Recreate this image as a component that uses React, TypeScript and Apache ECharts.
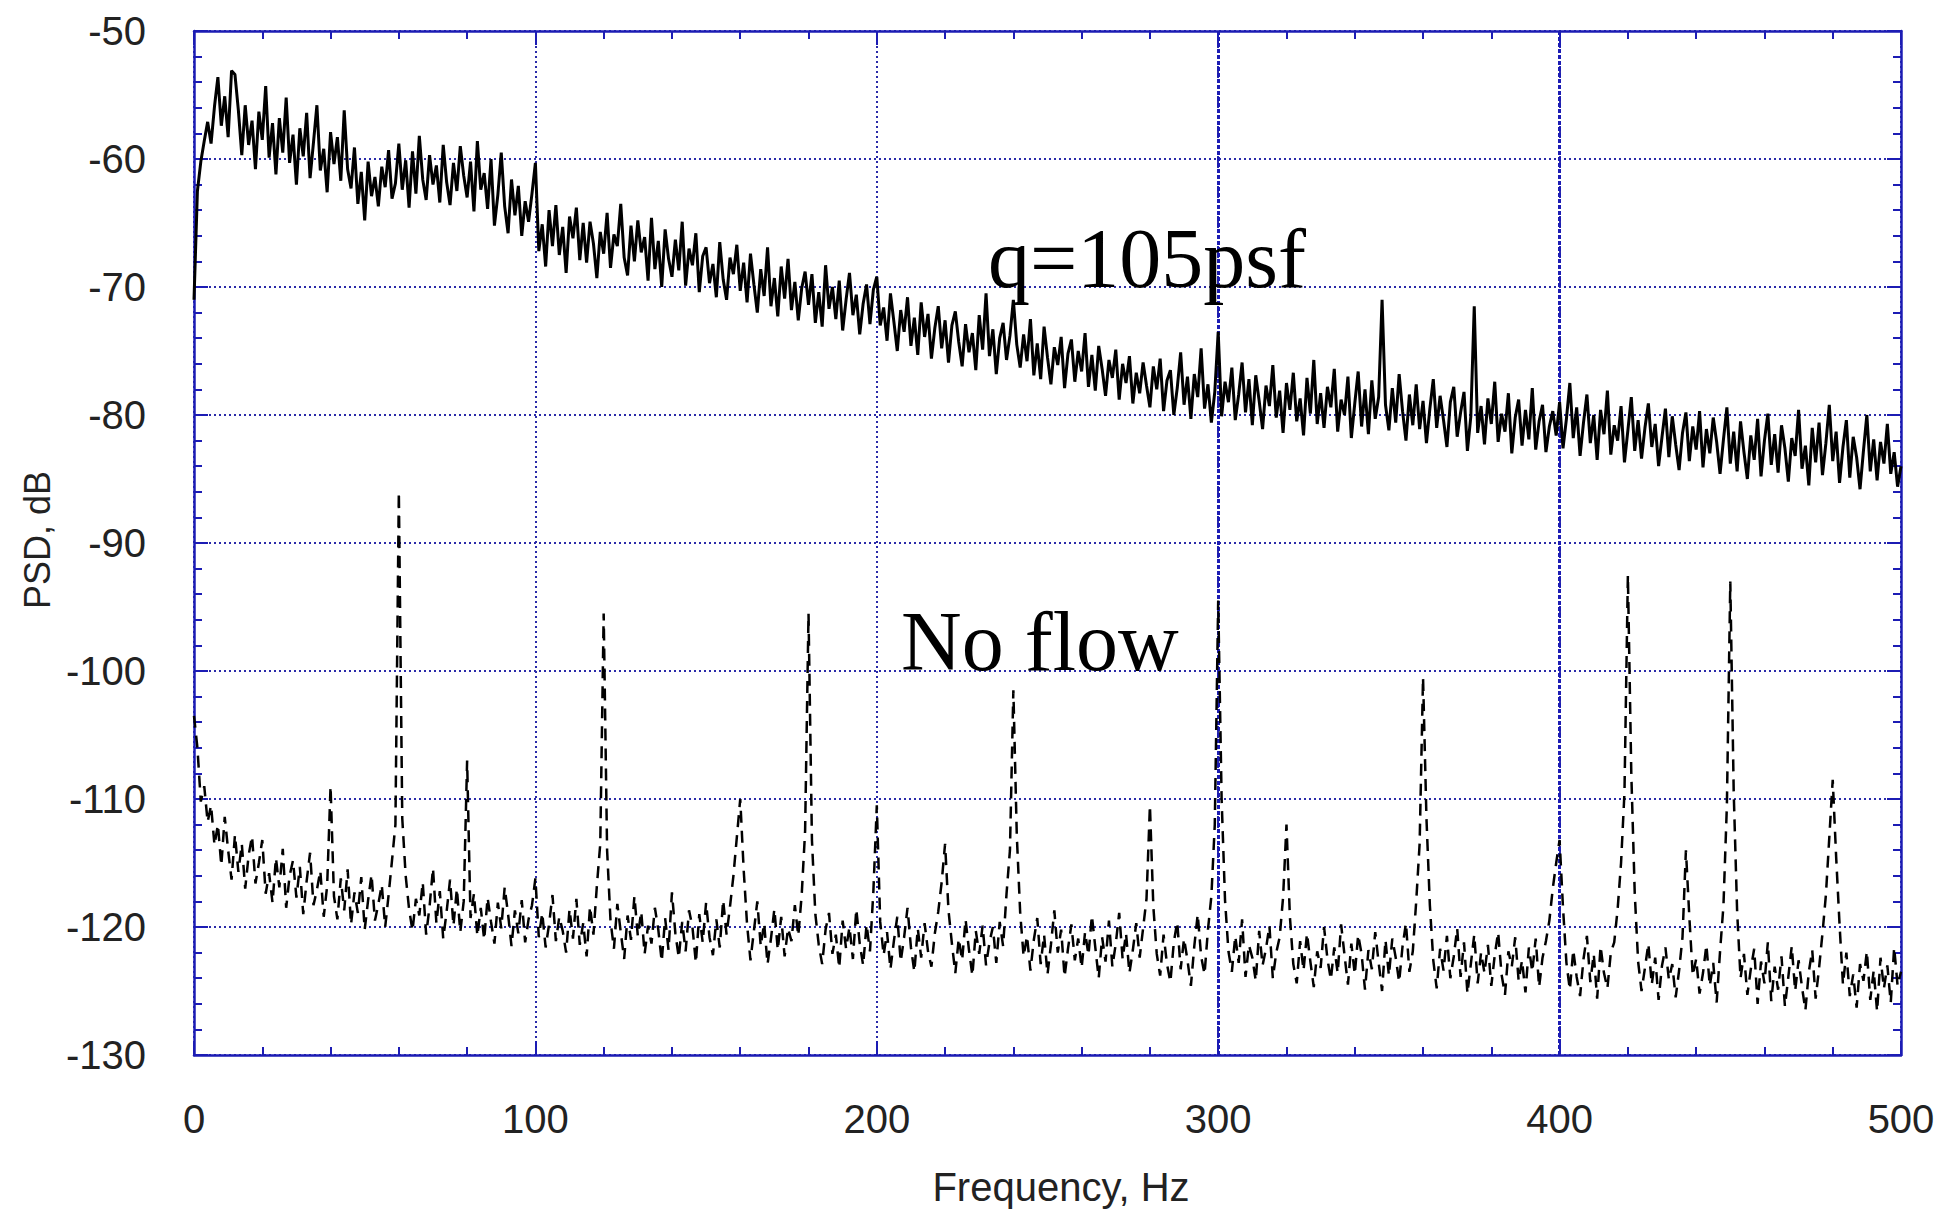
import React, { useEffect, useRef } from "react";
import * as echarts from "echarts";

// Frequency bins, 1 Hz apart, 0..500 Hz
const FREQ_HZ: number[] = Array.from({ length: 501 }, (_, i) => i);

// q=105psf spectrum (dB), one value per Hz
const Q105_PSD_DB: number[] = [
  -71.0, -62.5, -60.2, -58.6, -57.1, -58.8, -55.9, -53.6, -57.4, -55.1, -58.3, -53.1, -53.4, -56.2, -59.7, -55.8, -58.9, -57.0, -60.8, -56.3,
  -58.5, -54.3, -59.9, -57.2, -61.2, -56.8, -59.5, -55.2, -60.3, -58.1, -62.0, -57.6, -59.8, -56.4, -61.5, -58.7, -55.8, -60.9, -59.2, -62.6,
  -57.9, -60.4, -58.3, -61.7, -56.2, -60.8, -62.3, -59.1, -63.5, -61.0, -64.8, -60.2, -62.9, -61.4, -63.7, -60.6, -62.2, -59.3, -63.1, -61.9,
  -58.8, -62.4, -60.1, -63.8, -59.4, -62.7, -58.2, -61.6, -63.2, -59.7, -62.0, -60.5, -63.4, -58.9, -61.8, -63.6, -60.3, -62.5, -59.0, -61.3,
  -63.0, -60.2, -64.1, -58.6, -62.4, -61.1, -63.9, -60.0, -65.2, -62.8, -59.5, -63.7, -65.8, -61.6, -64.4, -62.1, -66.0, -63.3, -64.9, -62.7,
  -60.3, -67.2, -65.1, -68.4, -64.0, -66.8, -63.6, -67.5, -65.3, -68.9, -64.5, -66.2, -63.8, -67.9, -65.0, -68.1, -64.9, -66.6, -69.3, -65.7,
  -67.4, -64.2, -68.5, -65.9, -66.8, -63.5, -67.7, -69.1, -65.2, -68.0, -64.8, -67.3, -66.1, -69.5, -64.6, -68.6, -66.4, -70.0, -65.5, -67.8,
  -69.2, -66.3, -68.7, -64.9, -69.9, -67.0, -68.3, -65.8, -70.4, -67.6, -66.9, -69.7, -68.2, -70.8, -66.5, -69.4, -71.0, -67.7, -69.0, -66.7,
  -70.3, -68.1, -71.2, -67.4, -69.8, -72.0, -68.6, -70.7, -66.9, -71.5, -69.3, -72.3, -68.4, -70.9, -67.8, -71.8, -69.6, -72.6, -70.1, -68.8,
  -71.4, -69.0, -72.8, -70.4, -73.1, -68.3, -71.7, -70.0, -72.5, -69.5, -73.4, -71.0, -68.9, -72.2, -70.6, -73.7, -71.3, -69.8, -72.9, -70.2,
  -69.2, -73.0, -71.6, -74.2, -70.5, -72.7, -75.0, -71.8, -73.5, -70.8, -74.6, -72.4, -75.3, -71.2, -73.9, -72.1, -75.6, -73.2, -71.5, -74.8,
  -72.6, -75.9, -73.0, -71.9, -74.3, -76.2, -72.9, -75.1, -73.6, -76.5, -72.2, -74.9, -70.5, -75.4, -73.3, -76.8, -74.0, -72.8, -75.7, -73.8,
  -71.0, -74.5, -76.3, -73.7, -75.8, -72.5, -76.9, -74.4, -77.2, -73.1, -75.5, -77.6, -74.7, -76.1, -73.9, -77.9, -75.2, -74.1, -77.4, -75.0,
  -76.6, -73.6, -77.8, -75.3, -78.1, -74.6, -76.4, -78.5, -75.7, -77.1, -74.9, -78.8, -76.0, -77.5, -75.4, -79.1, -76.7, -78.3, -75.9, -77.7,
  -79.4, -76.2, -78.0, -75.6, -79.7, -77.3, -76.5, -80.0, -77.9, -75.1, -79.2, -77.0, -80.3, -76.8, -78.6, -74.8, -79.5, -77.6, -80.6, -78.2,
  -73.5, -80.1, -77.4, -79.0, -76.3, -80.4, -78.4, -75.9, -79.8, -77.2, -80.8, -76.9, -78.9, -81.1, -77.7, -79.3, -76.1, -80.2, -78.1, -81.4,
  -77.5, -79.6, -76.7, -80.5, -78.7, -81.6, -77.1, -79.9, -75.7, -80.7, -78.3, -81.0, -77.8, -79.4, -76.4, -81.3, -78.8, -80.0, -77.0, -81.8,
  -79.1, -76.6, -80.9, -78.0, -81.5, -77.3, -80.3, -78.6, -71.0, -79.2, -81.2, -77.9, -80.6, -76.8, -79.7, -82.0, -78.4, -80.8, -77.6, -81.1,
  -78.9, -82.2, -79.5, -77.2, -81.0, -78.5, -80.4, -82.5, -79.0, -77.8, -81.7, -79.8, -78.2, -82.8, -80.1, -71.5, -81.4, -79.3, -82.3, -78.7,
  -80.7, -77.4, -82.1, -79.9, -81.3, -78.3, -83.0, -80.2, -78.8, -82.4, -79.6, -81.9, -77.9, -82.7, -80.5, -79.2, -82.9, -80.9, -79.7, -81.6,
  -79.0, -82.6, -80.3, -77.5, -81.8, -79.4, -83.2, -80.6, -78.4, -82.2, -80.0, -83.5, -79.6, -81.5, -78.1, -83.1, -80.8, -82.0, -79.3, -83.7,
  -81.2, -78.6, -82.8, -80.4, -83.4, -81.0, -79.1, -82.5, -80.7, -84.0, -81.7, -79.5, -83.3, -80.1, -82.3, -84.3, -81.4, -79.8, -83.6, -80.9,
  -82.7, -79.7, -84.1, -81.1, -83.0, -80.2, -82.1, -84.6, -81.9, -79.4, -83.8, -81.3, -84.4, -80.5, -82.9, -85.0, -81.6, -83.5, -80.3, -84.8,
  -82.0, -79.9, -83.9, -81.5, -84.5, -80.8, -82.6, -85.2, -81.8, -83.2, -79.6, -84.2, -82.4, -85.5, -81.0, -83.7, -80.6, -84.7, -82.2, -79.2,
  -83.6, -81.3, -85.3, -82.5, -80.4, -84.9, -81.7, -83.3, -85.8, -82.8, -80.0, -84.4, -81.9, -85.1, -82.1, -83.8, -80.7, -84.6, -82.9, -85.6,
  -84.0,
];

// No-flow spectrum (dB), one value per Hz
const NOFLOW_PSD_DB: number[] = [
  -103.5, -106.0, -110.2, -109.0, -111.8, -110.5, -113.6, -112.0, -115.2, -111.4, -114.0, -116.3, -112.8, -115.7, -113.5, -117.0, -114.4, -112.9, -116.6, -115.0,
  -113.2, -117.4, -115.8, -118.1, -114.6, -116.9, -113.9, -118.5, -116.0, -114.8, -117.7, -115.3, -119.0, -116.4, -114.2, -118.3, -117.1, -115.6, -119.2, -116.8,
  -109.0, -117.6, -119.4, -116.2, -118.7, -115.5, -119.8, -117.3, -118.9, -116.1, -120.2, -117.9, -115.9, -119.5, -118.2, -116.7, -120.0, -117.5, -114.8, -112.0,
  -86.0, -111.5, -116.0, -118.6, -120.3, -117.8, -119.1, -116.5, -120.6, -118.4, -115.4, -119.7, -117.2, -120.9, -118.8, -116.3, -119.9, -117.0, -120.4, -118.0,
  -107.0, -119.3, -117.4, -120.7, -118.5, -121.0, -117.7, -119.6, -121.3, -118.1, -120.1, -116.9, -119.0, -121.5, -118.7, -120.5, -117.9, -121.2, -119.4, -118.3,
  -116.2, -120.8, -118.9, -121.6, -119.8, -117.5, -121.1, -119.2, -120.3, -122.0, -118.6, -120.9, -117.8, -121.4, -119.7, -122.3, -118.4, -120.6, -116.8, -113.5,
  -95.5, -114.0, -119.5, -121.7, -118.2, -120.4, -122.5, -119.1, -121.0, -117.6, -120.7, -118.8, -122.1, -119.9, -121.3, -118.5, -120.2, -122.7, -119.3, -121.8,
  -117.3, -120.5, -122.4, -119.6, -121.9, -118.7, -120.0, -122.8, -119.0, -121.2, -118.1, -120.8, -122.2, -119.4, -121.6, -117.9, -120.6, -118.4, -116.0, -113.0,
  -110.0, -115.5, -119.8, -122.6, -120.3, -118.0, -121.5, -119.7, -122.9, -120.9, -118.6, -121.8, -119.2, -122.3, -120.1, -121.1, -118.3, -120.7, -117.5, -112.5,
  -95.5, -113.2, -119.0, -121.4, -122.9, -120.2, -118.9, -122.1, -120.6, -123.2, -119.5, -121.7, -120.0, -122.5, -118.6, -121.3, -123.0, -119.8, -121.9, -117.2,
  -110.5, -119.6, -122.2, -120.4, -123.3, -121.1, -119.2, -122.7, -120.8, -118.5, -121.6, -123.5, -120.1, -122.4, -119.7, -121.9, -123.1, -120.5, -118.8, -116.5,
  -113.5, -118.7, -121.3, -123.6, -120.9, -122.6, -119.4, -121.8, -123.8, -120.3, -122.1, -119.9, -123.0, -121.2, -120.0, -122.8, -119.6, -121.5, -117.4, -114.0,
  -101.5, -112.8, -118.9, -122.3, -120.7, -123.4, -121.0, -119.3, -122.9, -120.6, -123.7, -121.4, -118.7, -122.0, -120.2, -123.9, -121.7, -119.8, -122.6, -120.9,
  -123.2, -120.4, -122.2, -119.1, -121.6, -124.0, -120.8, -122.7, -119.5, -123.1, -121.3, -118.9, -122.5, -120.5, -123.6, -121.8, -119.7, -122.4, -120.1, -117.8,
  -110.5, -118.4, -122.1, -123.8, -120.6, -122.9, -124.3, -121.2, -119.6, -123.3, -120.9, -122.6, -124.6, -121.5, -119.0, -122.3, -123.7, -120.2, -117.6, -112.0,
  -94.5, -110.0, -117.9, -121.9, -123.5, -120.7, -122.8, -119.4, -123.9, -121.4, -122.4, -124.2, -120.3, -123.0, -121.7, -119.9, -124.0, -122.0, -120.8, -117.7,
  -112.0, -119.2, -122.9, -124.4, -121.1, -123.4, -120.5, -122.7, -124.7, -121.9, -123.2, -120.0, -122.5, -124.1, -121.6, -123.6, -119.8, -122.2, -124.5, -121.3,
  -123.7, -120.6, -122.1, -124.9, -121.8, -123.3, -120.4, -122.8, -125.0, -121.0, -123.8, -120.9, -122.4, -124.3, -121.5, -119.7, -123.5, -121.9, -118.0, -113.5,
  -100.5, -111.5, -118.3, -122.6, -124.8, -121.7, -123.4, -120.7, -124.0, -122.3, -120.1, -123.9, -121.2, -125.2, -122.9, -120.6, -124.4, -122.0, -123.6, -121.4,
  -124.6, -122.2, -120.4, -123.7, -125.3, -121.9, -123.1, -120.8, -124.2, -122.6, -125.1, -121.6, -123.5, -120.9, -124.7, -122.4, -121.1, -119.5, -117.0, -115.0,
  -113.2, -118.5, -122.8, -124.9, -121.8, -123.9, -125.4, -122.5, -120.7, -124.3, -122.1, -125.6, -121.5, -123.6, -124.8, -122.0, -121.2, -118.6, -115.0, -109.5,
  -92.5, -108.0, -117.3, -122.7, -125.0, -123.2, -121.3, -124.5, -122.4, -125.7, -123.0, -121.6, -124.1, -122.9, -125.5, -123.4, -120.8, -114.0, -119.2, -123.8,
  -122.5, -125.2, -123.6, -121.4, -124.6, -122.8, -125.9, -121.9, -118.3, -110.5, -93.0, -109.5, -118.8, -124.0, -122.1, -125.3, -123.3, -121.7, -126.0, -122.7,
  -124.4, -121.2, -125.8, -123.1, -124.9, -122.3, -126.2, -123.9, -121.5, -125.0, -122.6, -124.7, -126.5, -123.5, -121.8, -125.6, -123.2, -120.5, -117.5, -113.0,
  -108.5, -114.5, -119.8, -124.5, -122.0, -125.4, -123.7, -126.3, -122.9, -124.2, -121.9, -125.7, -123.4, -126.6, -122.4, -124.8, -123.0, -125.9, -121.6, -124.6,
  -123.5,
];

const X_MIN = 0;
const X_MAX = 500;
const X_STEP = 100;
const Y_MIN = -130;
const Y_MAX = -50;
const Y_STEP = 10;
// gridlines that are drawn heavier in the reference
const HEAVY_GRID_X = [300, 400];

const X_TITLE = "Frequency, Hz";
const Y_TITLE = "PSD, dB";
const LABEL_Q105 = "q=105psf";
const LABEL_NOFLOW = "No flow";

export default function App() {
  const ref = useRef<HTMLDivElement>(null);

  useEffect(() => {
    if (!ref.current) return;
    const chart = echarts.init(ref.current, null, { renderer: "svg" });
    const frame = "#1c1cb4";
    const gridColor = "#2a2aa8";
    const sans = "'Liberation Sans', Arial, sans-serif";
    const serif = "'Liberation Serif', 'Times New Roman', serif";

    const tickStyle = { color: frame, width: 2 };
    const sideAxis = (extra: any) => ({
      type: "value",
      axisLine: { show: true, onZero: false, lineStyle: { color: frame, width: 2.5 } },
      axisTick: { show: true, inside: true, length: 14, lineStyle: tickStyle },
      minorTick: { show: true, splitNumber: 5, length: 8, lineStyle: tickStyle },
      splitLine: { show: false },
      axisLabel: { show: false },
      ...extra,
    });

    const q105 = FREQ_HZ.map((f, i) => [f, Q105_PSD_DB[i]]);
    const noflow = FREQ_HZ.map((f, i) => [f, NOFLOW_PSD_DB[i]]);

    chart.setOption({
      animation: false,
      backgroundColor: "#ffffff",
      grid: { left: 194, right: 41, top: 31, bottom: 156, containLabel: false },
      xAxis: [
        sideAxis({
          min: X_MIN,
          max: X_MAX,
          interval: X_STEP,
          position: "bottom",
          splitLine: { show: true, lineStyle: { color: gridColor, width: 2, type: [2, 3] } },
          axisLabel: { show: true, color: "#222", fontSize: 40, fontFamily: sans, margin: 44 },
        }),
        sideAxis({ min: X_MIN, max: X_MAX, interval: X_STEP, position: "top" }),
      ],
      yAxis: [
        sideAxis({
          min: Y_MIN,
          max: Y_MAX,
          interval: Y_STEP,
          position: "left",
          splitLine: { show: true, lineStyle: { color: gridColor, width: 2, type: [2, 3] } },
          axisLabel: { show: true, color: "#222", fontSize: 40, fontFamily: sans, margin: 48 },
        }),
        sideAxis({ min: Y_MIN, max: Y_MAX, interval: Y_STEP, position: "right" }),
      ],
      series: [
        {
          name: LABEL_Q105,
          type: "line",
          xAxisIndex: 0,
          yAxisIndex: 0,
          data: q105,
          symbol: "none",
          showSymbol: false,
          lineStyle: { color: "#000000", width: 3 },
          z: 3,
          markLine: {
            silent: true,
            symbol: "none",
            label: { show: false },
            lineStyle: { color: frame, width: 3, type: [4, 2] },
            data: HEAVY_GRID_X.map((v) => ({ xAxis: v })),
            z: 1,
          },
        },
        {
          name: LABEL_NOFLOW,
          type: "line",
          xAxisIndex: 0,
          yAxisIndex: 0,
          data: noflow,
          symbol: "none",
          showSymbol: false,
          lineStyle: { color: "#000000", width: 2.5, type: [12, 8] },
          z: 3,
        },
      ],
      graphic: [
        {
          type: "text",
          x: 1061,
          y: 1187,
          style: {
            text: X_TITLE,
            font: `40px ${sans}`,
            fill: "#222",
            align: "center",
            verticalAlign: "middle",
            textAlign: "center",
            textVerticalAlign: "middle",
          },
        },
        {
          type: "text",
          x: 37,
          y: 540,
          rotation: Math.PI / 2,
          style: {
            text: Y_TITLE,
            font: `36px ${sans}`,
            fill: "#222",
            align: "center",
            verticalAlign: "middle",
            textAlign: "center",
            textVerticalAlign: "middle",
          },
        },
        {
          type: "text",
          x: 988,
          y: 258,
          z: 10,
          style: {
            text: LABEL_Q105,
            font: `84px ${serif}`,
            fill: "#000",
            align: "left",
            verticalAlign: "middle",
            textAlign: "left",
            textVerticalAlign: "middle",
          },
        },
        {
          type: "text",
          x: 901,
          y: 641,
          z: 10,
          style: {
            text: LABEL_NOFLOW,
            font: `84px ${serif}`,
            fill: "#000",
            align: "left",
            verticalAlign: "middle",
            textAlign: "left",
            textVerticalAlign: "middle",
          },
        },
      ],
    });

    return () => chart.dispose();
  }, []);

  return (
    <div
      ref={ref}
      style={{ position: "fixed", left: 0, top: 0, width: 1942, height: 1211 }}
    />
  );
}
